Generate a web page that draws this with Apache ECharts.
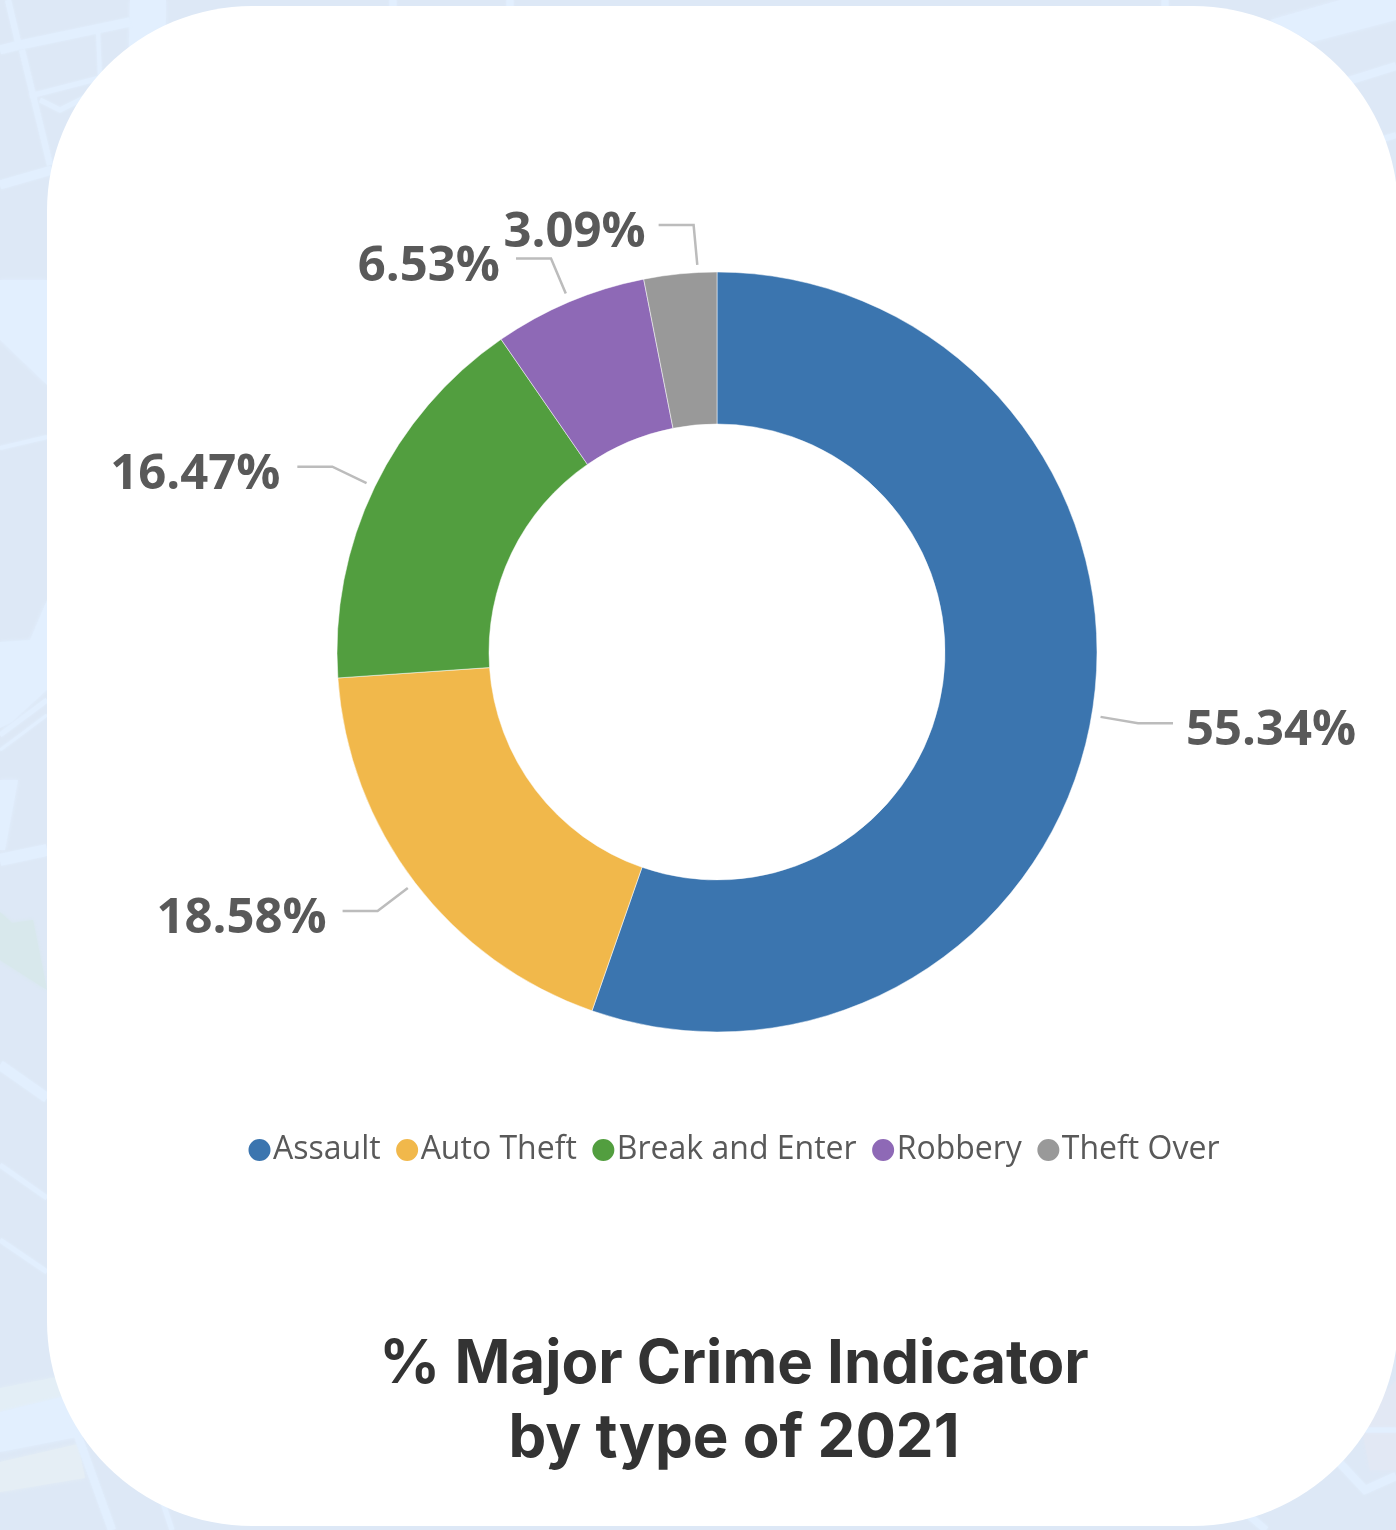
<!DOCTYPE html>
<html>
<head>
<meta charset="utf-8">
<title>% Major Crime Indicator by type of 2021</title>
<style>
  html, body { margin: 0; padding: 0; background: #dde8f6; }
  #chart { width: 1396px; height: 1530px; }
</style>
<script src="https://cdn.jsdelivr.net/npm/echarts@6/dist/echarts.min.js"></script>
</head>
<body>
<div id="chart"></div>
<script>
// Share of major crime indicators in 2021, percent
const crimeTypes = ['Assault', 'Auto Theft', 'Break and Enter', 'Robbery', 'Theft Over'];
const crimeShares = [55.34, 18.58, 16.47, 6.53, 3.09];
const sliceColors = ['#3b75af', '#f1b84b', '#529e3f', '#8e69b6', '#999999'];
const chartTitle = '% Major Crime Indicator\nby type of 2021';

// Horizontal label fine-tuning per slice, and the sideways shift of the smallest slice's leader
const labelShiftX = [-1, -2, -3, -2, 19];
const leaderShiftX = [0, 0, 0, 0, 18];
const leaderLiftY = [0, 0, 0, 0, 2];

// Street-map backdrop behind the white card
const streetColor = '#e2effe';
const mapAreas = [
  { fill: streetColor, points: [[0, 280], [47, 280], [47, 385], [0, 340]] },
  { fill: streetColor, points: [[30, 640], [47, 600], [47, 690], [12, 722], [0, 728], [0, 642]] },
  { fill: streetColor, points: [[0, 780], [18, 780], [5, 850], [0, 850]] },
  { fill: '#d8e8ec', points: [[0, 912], [12, 923], [33, 920], [47, 990], [0, 960]] },
  { fill: '#e3eef6', points: [[0, 1388], [62, 1376], [70, 1395], [0, 1412]] },
  { fill: streetColor, points: [[0, 1412], [70, 1395], [82, 1436], [0, 1452]] },
  { fill: '#e5eef5', points: [[0, 1462], [78, 1444], [85, 1478], [0, 1492]] },
  { fill: streetColor, points: [[1340, 0], [1396, 0], [1396, 20], [1312, 42], [1270, 20]] },
  { fill: '#e2e8f4', points: [[1360, 1420], [1396, 1380], [1396, 1470], [1370, 1470]] },
  { fill: streetColor, points: [[130, 0], [166, 0], [165, 75], [128, 100]] }
];
const mapStreets = [
  { width: 9, points: [[0, 50], [20, 45], [130, 22]] },
  { width: 6, points: [[8, 0], [18, 42]] },
  { width: 6, points: [[22, 50], [50, 165]] },
  { width: 5, points: [[30, 96], [100, 78]] },
  { width: 9, points: [[0, 185], [52, 170]] },
  { width: 5, points: [[40, 100], [60, 110], [100, 90]] },
  { width: 4, points: [[98, 30], [100, 78]] },
  { width: 4, points: [[0, 448], [47, 437]] },
  { width: 5, points: [[0, 735], [47, 700]] },
  { width: 3, points: [[0, 750], [47, 715]] },
  { width: 12, points: [[0, 860], [47, 850]] },
  { width: 10, points: [[0, 1065], [47, 1098]] },
  { width: 5, points: [[0, 1165], [47, 1198]] },
  { width: 5, points: [[0, 1240], [47, 1272]] },
  { width: 8, points: [[78, 1436], [112, 1530]] },
  { width: 5, points: [[162, 1500], [172, 1530]] },
  { width: 7, points: [[393, 0], [393, 8]] },
  { width: 7, points: [[510, 0], [510, 8]] },
  { width: 7, points: [[1165, 0], [1165, 8]] },
  { width: 8, points: [[1345, 82], [1396, 66]] },
  { width: 6, points: [[1380, 140], [1396, 135]] },
  { width: 5, points: [[1365, 1430], [1396, 1430]] },
  { width: 8, points: [[1337, 1460], [1365, 1490], [1396, 1476]] },
  { width: 7, points: [[1245, 1512], [1266, 1530]] }
];

const backdrop = [
  ...mapAreas.map(a => ({
    type: 'polygon', silent: true, z: 0,
    shape: { points: a.points },
    style: { fill: a.fill, shadowColor: a.fill, shadowBlur: 4 }
  })),
  ...mapStreets.map(s => ({
    type: 'polyline', silent: true, z: 1,
    shape: { points: s.points },
    style: { stroke: streetColor, lineWidth: s.width, fill: null, shadowColor: streetColor, shadowBlur: 3 }
  })),
  {
    type: 'rect', silent: true, z: 2,
    shape: { x: 47, y: 6, width: 1351, height: 1520, r: 205 },
    style: { fill: '#ffffff' }
  }
];

const chart = echarts.init(document.getElementById('chart'), null, { renderer: 'canvas' });
chart.setOption({
  animation: false,
  backgroundColor: '#dde8f6',
  graphic: { elements: backdrop },
  color: sliceColors,
  title: {
    text: chartTitle,
    left: 729,
    top: 1323,
    textAlign: 'center',
    textStyle: {
      fontFamily: 'Inter',
      fontWeight: 700,
      fontSize: 60,
      lineHeight: 74,
      color: '#333333'
    }
  },
  legend: {
    data: crimeTypes,
    left: 246.5,
    top: 1134,
    padding: 0,
    icon: 'circle',
    itemWidth: 24,
    itemHeight: 24,
    itemGap: 13.5,
    textStyle: {
      fontFamily: 'Open Sans',
      fontSize: 32,
      color: '#595959',
      padding: [4, 0, 0, -3.5]
    }
  },
  series: [{
    type: 'pie',
    center: [717, 652],
    radius: [228, 380],
    startAngle: 90,
    clockwise: true,
    avoidLabelOverlap: false,
    data: crimeTypes.map((name, i) => ({ name, value: crimeShares[i] })),
    itemStyle: { borderColor: '#ffffff', borderWidth: 0.5 },
    label: {
      show: true,
      position: 'outside',
      distanceToLabelLine: 14,
      formatter: p => p.value.toFixed(2) + '%',
      fontFamily: 'Open Sans',
      fontWeight: 700,
      fontSize: 49,
      color: '#595959'
    },
    labelLine: {
      show: true,
      length: 47,
      length2: 35,
      lineStyle: { color: '#bcbcbc', width: 2.5 }
    },
    // Leader lines stop short of the ring; labels sit slightly below them.
    labelLayout(params) {
      const i = params.dataIndex;
      const lift = leaderLiftY[i];
      const shift = leaderShiftX[i];
      const placement = { dx: labelShiftX[i], dy: 8 - lift };
      const pts = params.labelLinePoints;
      if (!pts) return placement;
      const [a, b, c] = pts;
      const gap = 9 / Math.hypot(b[0] - a[0], b[1] - a[1]);
      placement.labelLinePoints = [
        [a[0] + (b[0] - a[0]) * gap + shift, a[1] + (b[1] - a[1]) * gap],
        [b[0] + shift, b[1] - lift],
        [c[0] + shift, c[1] - lift]
      ];
      return placement;
    }
  }]
});
</script>
</body>
</html>
